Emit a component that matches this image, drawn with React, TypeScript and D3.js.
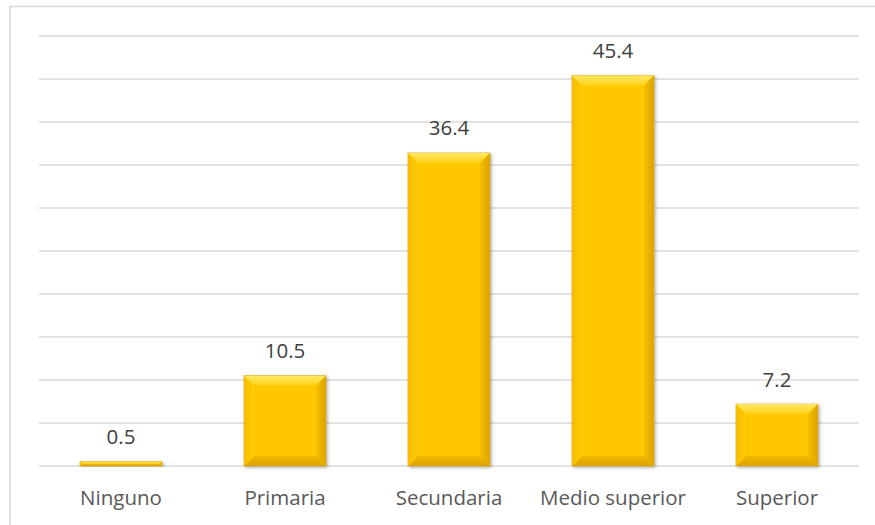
import React from "react";
import * as d3 from "d3";

const categories = ["Ninguno", "Primaria", "Secundaria", "Medio superior", "Superior"];
const values = [0.5, 10.5, 36.4, 45.4, 7.2];
const yTicks = [0, 5, 10, 15, 20, 25, 30, 35, 40, 45, 50];

const W = 875;
const H = 525;
const left = 39;
const right = 859;
const top = 36;
const bottom = 466;

export default function App() {
  const x = d3.scaleBand<string>().domain(categories).range([left, right]).paddingInner(0.5).paddingOuter(0.25);
  const y = d3.scaleLinear().domain([0, 50]).range([bottom, top]);
  const font = "'Open Sans', 'Noto Sans', sans-serif";

  return (
    <svg width={W} height={H} style={{ position: "absolute", left: 0, top: 0, background: "#fff" }}>
      <defs>
        <filter id="sh" x="-20%" y="-20%" width="140%" height="140%">
          <feDropShadow dx="1.5" dy="1.5" stdDeviation="1.5" floodColor="#000" floodOpacity="0.3" />
        </filter>
        <linearGradient id="topG" x1="0" y1="0" x2="0" y2="1">
          <stop offset="0" stopColor="#FFE866" />
          <stop offset="1" stopColor="#FFD21A" />
        </linearGradient>
        <linearGradient id="botG" x1="0" y1="0" x2="0" y2="1">
          <stop offset="0" stopColor="#F2B800" />
          <stop offset="1" stopColor="#D9A200" />
        </linearGradient>
        <linearGradient id="leftG" x1="0" y1="0" x2="1" y2="0">
          <stop offset="0" stopColor="#F5BE00" />
          <stop offset="1" stopColor="#FFCB08" />
        </linearGradient>
        <linearGradient id="rightG" x1="0" y1="0" x2="1" y2="0">
          <stop offset="0" stopColor="#F7BF00" />
          <stop offset="1" stopColor="#DCA400" />
        </linearGradient>
      </defs>
      <rect x={10} y={6.5} width={880} height={540} fill="#fff" stroke="#d9d9d9" strokeWidth={1.5} />
      {yTicks.map((t) => (
        <line key={t} x1={left} x2={right} y1={y(t)} y2={y(t)} stroke="#d9d9d9" strokeWidth={1.3} />
      ))}
      {categories.map((c, i) => {
        const bx = x(c)!;
        const bw = x.bandwidth();
        const by = y(values[i]);
        const bh = y(0) - by;
        const b = Math.min(10, bh / 2, bw / 2);
        const pts = (a: number[][]) => a.map((p) => p.join(",")).join(" ");
        return (
          <g key={c}>
            <g filter="url(#sh)">
              <rect x={bx} y={by} width={bw} height={bh} fill="#FFC800" stroke="#C99A00" strokeWidth={0.6} />
              <polygon points={pts([[bx, by], [bx + bw, by], [bx + bw - b, by + b], [bx + b, by + b]])} fill="url(#topG)" />
              <polygon points={pts([[bx, by + bh], [bx + bw, by + bh], [bx + bw - b, by + bh - b], [bx + b, by + bh - b]])} fill="url(#botG)" />
              <polygon points={pts([[bx, by], [bx + b, by + b], [bx + b, by + bh - b], [bx, by + bh]])} fill="url(#leftG)" />
              <polygon points={pts([[bx + bw, by], [bx + bw - b, by + b], [bx + bw - b, by + bh - b], [bx + bw, by + bh]])} fill="url(#rightG)" />
              <rect x={bx + b} y={by + b} width={Math.max(0, bw - 2 * b)} height={Math.max(0, bh - 2 * b)} fill="#FFC800" />
            </g>
            <text x={bx + bw / 2} y={by - 17.5} textAnchor="middle" fontFamily={font} fontSize={20.5} fill="#404040">
              {values[i].toFixed(1)}
            </text>
            <text x={bx + bw / 2} y={505} textAnchor="middle" fontFamily={font} fontSize={20.5} fill="#595959">
              {c}
            </text>
          </g>
        );
      })}
    </svg>
  );
}
